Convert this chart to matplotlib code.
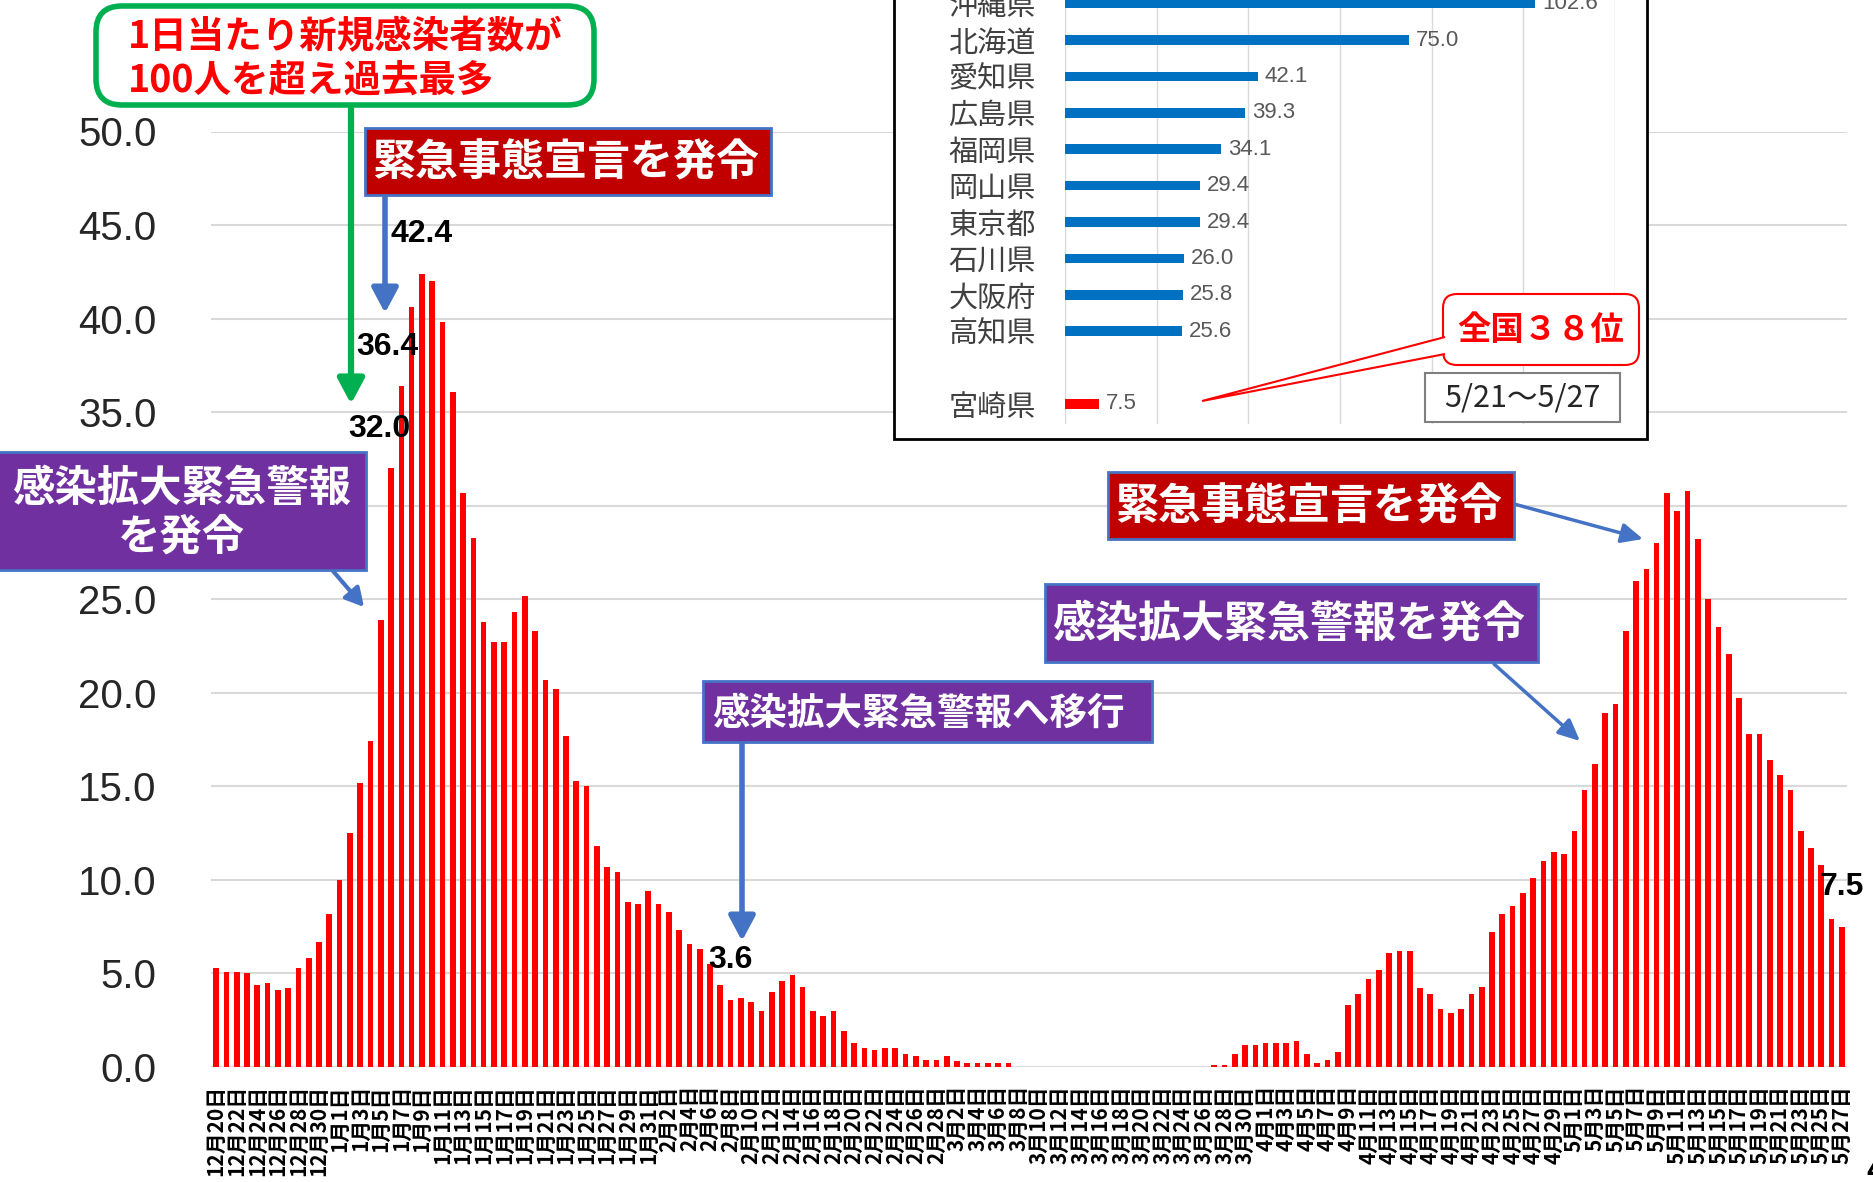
import numpy as np
import matplotlib
matplotlib.use('Agg')
import matplotlib.pyplot as plt
from matplotlib.patches import FancyBboxPatch, Polygon, FancyArrowPatch
from matplotlib.transforms import IdentityTransform

plt.rcParams['font.family'] = ['Noto Sans CJK JP', 'DejaVu Sans']

W, H = 1874, 1182

# daily new cases per 100k (7-day), 12/20 - 5/27
months = [12, 1, 2, 3, 4, 5]
first_day = [20, 1, 1, 1, 1, 1]
dec = [5.3, 5.1, 5.1, 5.0, 4.4, 4.5, 4.1, 4.2, 5.3, 5.8, 6.7, 8.2]
jan = [10.0, 12.5, 15.2, 17.4, 23.9, 32.0, 36.4, 40.6, 42.4, 42.0, 39.8, 36.1,
       30.7, 28.3, 23.8, 22.7, 22.7, 24.3, 25.2, 23.3, 20.7, 20.2, 17.7, 15.3,
       15.0, 11.8, 10.7, 10.4, 8.8, 8.7, 9.4]
feb = [8.7, 8.3, 7.3, 6.6, 6.3, 5.5, 4.4, 3.6, 3.7, 3.5, 3.0, 4.0, 4.6, 4.9,
       4.3, 3.0, 2.7, 3.0, 1.9, 1.3, 1.0, 0.9, 1.0, 1.0, 0.7, 0.6, 0.4, 0.4]
mar = [0.6, 0.3, 0.2, 0.2, 0.2, 0.2, 0.2, 0, 0, 0, 0, 0, 0, 0, 0, 0, 0, 0, 0,
       0, 0, 0, 0, 0, 0, 0, 0.1, 0.1, 0.7, 1.2, 1.2]
apr = [1.3, 1.3, 1.3, 1.4, 0.7, 0.2, 0.4, 0.8, 3.3, 3.9, 4.7, 5.2, 6.1, 6.2,
       6.2, 4.2, 3.9, 3.1, 2.9, 3.1, 3.9, 4.3, 7.2, 8.2, 8.6, 9.3, 10.1, 11.0,
       11.5, 11.4]
may = [12.6, 14.8, 16.2, 18.9, 19.4, 23.3, 26.0, 26.6, 28.0, 30.7, 29.7, 30.8,
       28.2, 25.0, 23.5, 22.1, 19.7, 17.8, 17.8, 16.4, 15.6, 14.8, 12.6, 11.7,
       10.8, 7.9, 7.5]
labeled_days = [17, 18, 20, 50, 158]
label_dx = [-1.1, -1.4, 0.0, 0.0, 0.0]

# inset: top 10 prefectures (5/21-5/27)
prefs = ['沖縄県', '北海道', '愛知県', '広島県', '福岡県', '岡山県', '東京都', '石川県', '大阪府', '高知県']
pref_vals = [102.6, 75.0, 42.1, 39.3, 34.1, 29.4, 29.4, 26.0, 25.8, 25.6]
home_pref = '宮崎県'
home_val = 7.5

series = [dec, jan, feb, mar, apr, may]
cases = []
labels = []
for m, d0, vals in zip(months, first_day, series):
    for k, v in enumerate(vals):
        cases.append(v)
        labels.append(f'{m}月{d0 + k}日')
x = np.arange(len(cases))

fig = plt.figure(figsize=(W / 100, H / 100), dpi=100)
ax = fig.add_axes([211 / W, 1 - 1067 / H, (1847 - 211) / W, (1067 - 131.5) / H])
ax.bar(x, cases, width=0.55, color='#FF0000', zorder=2)
ax.set_xlim(-0.5, len(cases) - 0.5)
ax.set_ylim(0, 50)
yt = np.arange(0, 50.1, 5)
ax.set_yticks(yt)
ax.set_yticklabels([f'{v:.1f}' for v in yt], family='Liberation Sans', fontsize=29, color='#262626')
ax.yaxis.grid(True, color='#D9D9D9', lw=1.5)
ax.set_axisbelow(True)
for s in ax.spines.values():
    s.set_visible(False)
ax.tick_params(axis='y', length=0, pad=39)
ax.set_xticks(x[::2])
ax.set_xticklabels(labels[::2], rotation=90, fontsize=15, fontweight='bold')
ax.tick_params(axis='x', length=0, pad=13)

for i, dx in zip(labeled_days, label_dx):
    ax.text(i + dx, cases[i] + 2.1, f'{cases[i]:.1f}', ha='center', va='center',
            family='Liberation Sans', fontweight='bold', fontsize=23, color='black')


def box(x0, y0, x1, y1, fc, ec, lw, style='square,pad=0', z=5):
    p = FancyBboxPatch((x0, H - y1), x1 - x0, y1 - y0, boxstyle=style,
                       transform=IdentityTransform(), fc=fc, ec=ec, lw=lw, zorder=z)
    fig.add_artist(p)


def ftext(px, py, s, **kw):
    kw.setdefault('zorder', 8)
    fig.text(px / W, 1 - py / H, s, **kw)


def arrow(x0, y0, x1, y1, color, lw, hl, hw):
    a = FancyArrowPatch((x0, H - y0), (x1, H - y1), transform=IdentityTransform(),
                        arrowstyle=f'-|>,head_length={hl},head_width={hw}',
                        mutation_scale=1, color=color, lw=lw,
                        shrinkA=0, shrinkB=0, zorder=4)
    fig.add_artist(a)


# annotations
arrow(351, 105, 351, 404, '#00B050', 4.5, 15, 8)
box(96, 6, 594, 105, 'white', '#00B050', 4, 'round,pad=0,rounding_size=26')
ftext(128, 37, '1日当たり新規感染者数が', ha='left', va='center', color='#FF0000',
      fontsize=27, fontweight='bold')
ftext(128, 80, '100人を超え過去最多', ha='left', va='center', color='#FF0000',
      fontsize=27, fontweight='bold')

arrow(385, 195, 385, 313, '#4472C4', 4, 15, 8)
box(365, 128, 771, 195, '#C00000', '#4472C4', 2)
ftext(566, 163, '緊急事態宣言を発令', ha='center', va='center', color='white',
      fontsize=31, fontweight='bold')

arrow(333, 571, 364, 607, '#4472C4', 3, 11, 6)
box(-5, 452, 366, 570, '#7030A0', '#4472C4', 2)
ftext(182, 489, '感染拡大緊急警報', ha='center', va='center', color='white',
      fontsize=30.5, fontweight='bold')
ftext(182, 538, 'を発令', ha='center', va='center', color='white',
      fontsize=30.5, fontweight='bold')

arrow(742, 742, 742, 941, '#4472C4', 4, 15, 8)
box(703, 681, 1152, 742, '#7030A0', '#4472C4', 2)
ftext(918, 713, '感染拡大緊急警報へ移行', ha='center', va='center', color='white',
      fontsize=27, fontweight='bold')

arrow(1514, 504, 1643, 539, '#4472C4', 2.5, 13, 6)
box(1108, 472, 1514, 539, '#C00000', '#4472C4', 2)
ftext(1309, 507, '緊急事態宣言を発令', ha='center', va='center', color='white',
      fontsize=31, fontweight='bold')

arrow(1494, 664, 1580, 741, '#4472C4', 2.5, 13, 6)
box(1045, 584, 1538, 662, '#7030A0', '#4472C4', 2)
ftext(1289, 624, '感染拡大緊急警報を発令', ha='center', va='center', color='white',
      fontsize=31, fontweight='bold')

# inset ranking chart
box(894, -10, 1647, 439, 'white', 'black', 2, z=1.5)
ins = fig.add_axes([1065 / W, 1 - 424 / H, 550 / W, 424 / H])
ins.set_zorder(2)
ins.patch.set_alpha(0)
ypos = np.arange(len(prefs) + 1, 1, -1)
ins.barh(ypos, pref_vals, height=0.26, color='#0070C0', zorder=2)
ins.barh([0], [home_val], height=0.26, color='#FF0000', zorder=2)
for yv, v in zip(list(ypos) + [0], pref_vals + [home_val]):
    ins.text(v + 1.5, yv, f'{v:.1f}', va='center', ha='left', family='Liberation Sans',
             fontsize=16, color='#595959')
ins.set_xlim(0, 120)
ins.set_ylim(-0.55, 11.1)
ins.set_xticks(np.arange(0, 121, 20))
ins.set_xticklabels([])
ins.xaxis.grid(True, color='#D9D9D9', lw=1)
ins.set_axisbelow(True)
ins.set_yticks(list(ypos) + [0])
ins.set_yticklabels(prefs + [home_pref], fontsize=21, color='#404040')
ins.tick_params(length=0)
ins.tick_params(axis='y', pad=21)
for s in ins.spines.values():
    s.set_visible(False)

box(1443, 294, 1639, 365, 'white', '#FF0000', 1.5, 'round,pad=0,rounding_size=14', z=6)
wedge = Polygon([(1445, H - 337), (1202, H - 401), (1445, H - 354)], closed=False,
                transform=IdentityTransform(), fc='white', ec='#FF0000', lw=1.5, zorder=6)
fig.add_artist(wedge)
ftext(1541, 331, '全国３８位', ha='center', va='center', color='#FF0000',
      fontsize=24, fontweight='bold')

box(1425, 373, 1620, 422, 'white', '#7F7F7F', 1.5, z=6)
ftext(1522, 398, '5/21～5/27', ha='center', va='center', color='#262626',
      fontsize=22)

ftext(1866, 1172, '4', ha='left', va='center', fontsize=20, fontweight='bold')

fig.savefig('out.png', dpi=100)
